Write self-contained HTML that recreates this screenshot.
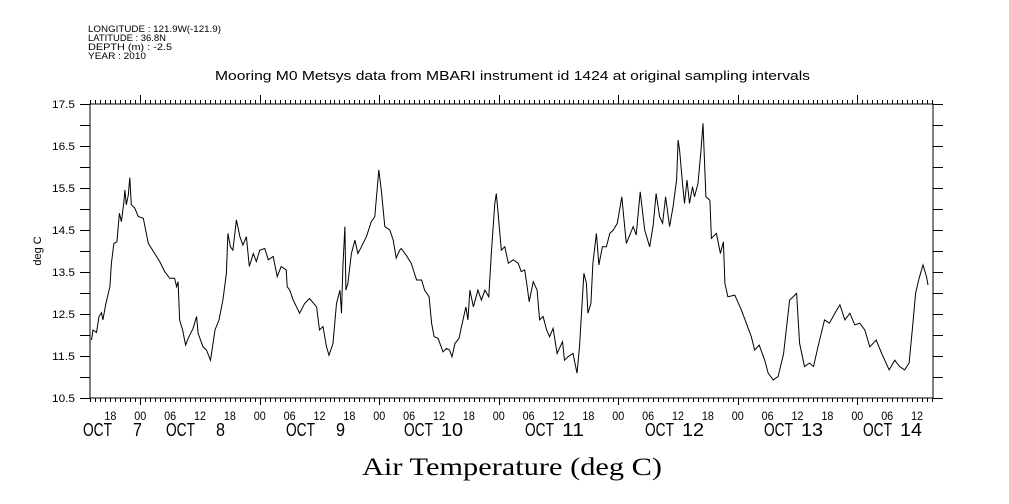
<!DOCTYPE html>
<html><head><meta charset="utf-8">
<style>
body{margin:0;background:#fff;}
svg{display:block;font-family:"Liberation Sans",sans-serif;}
</style></head>
<body>
<svg width="1009" height="504" viewBox="0 0 1009 504">
<g id="hdr" font-size="9" fill="#000">
<text x="88" y="32" textLength="133" lengthAdjust="spacingAndGlyphs">LONGITUDE : 121.9W(-121.9)</text>
<text x="88" y="41" textLength="78" lengthAdjust="spacingAndGlyphs">LATITUDE : 36.8N</text>
<text x="88" y="50" textLength="84" lengthAdjust="spacingAndGlyphs">DEPTH (m) : -2.5</text>
<text x="88" y="59" textLength="58" lengthAdjust="spacingAndGlyphs">YEAR : 2010</text>
</g>
<text x="215" y="80" textLength="595" lengthAdjust="spacingAndGlyphs" font-size="12.5">Mooring M0 Metsys data from MBARI instrument id 1424 at original sampling intervals</text>
<text transform="translate(41,251) rotate(-90)" text-anchor="middle" font-size="11">deg C</text>
<text x="362" y="475" textLength="300" lengthAdjust="spacingAndGlyphs" font-size="25" font-family="Liberation Serif, serif">Air Temperature (deg C)</text>
<rect x="90" y="104" width="843" height="294" fill="none" stroke="#000" stroke-width="1"/>
<g id="axes"></g>
<path id="line" fill="none" stroke="#000" stroke-width="1"/>
</svg>
<script>
const hours=[-9.8,-9.5,-8.8,-8.3,-7.8,-7.5,-6.9,-6.1,-5.8,-5.3,-4.7,-4.2,-3.8,-3.3,-3.1,-2.8,-2.4,-2.1,-1.8,-1.1,-0.4,0.6,1.6,2.9,3.9,4.9,5.9,6.9,7.3,7.6,7.9,8.5,9.1,9.6,10.6,11.3,11.6,12.6,13.3,14.1,14.6,15.0,15.8,16.6,17.3,17.6,18.1,18.6,19.3,20.0,20.6,21.3,21.9,22.7,23.3,24.0,25.0,25.7,26.7,27.5,28.3,29.3,29.5,30.0,30.7,32.0,33.0,34.0,35.4,36.0,36.7,37.4,37.9,38.7,39.4,40.1,40.4,40.7,41.1,41.3,41.7,42.4,43.1,43.7,44.4,45.4,46.4,47.1,47.9,48.4,49.1,50.1,50.8,51.4,52.1,52.4,53.4,54.4,55.5,56.5,57.1,58.0,58.5,59.0,59.8,60.8,61.5,62.1,62.6,63.2,64.0,64.5,65.4,65.8,66.2,66.9,67.8,68.5,69.2,70.0,70.5,71.2,71.5,71.8,72.5,73.2,73.9,74.9,75.9,76.5,77.2,77.6,78.1,78.9,79.7,80.2,80.9,81.6,82.2,82.9,83.7,84.8,85.2,85.9,86.9,87.7,88.2,89.1,89.6,89.9,90.5,90.9,91.6,92.1,92.8,93.6,94.3,95.0,95.8,96.7,97.6,99.0,99.6,100.4,101.3,102.3,103.0,103.6,104.3,104.9,105.5,106.3,107.0,107.7,108.0,108.3,108.9,109.3,109.8,110.3,110.9,111.3,112.0,112.6,113.0,113.6,114.4,114.7,115.7,116.5,117.1,117.4,118.0,119.4,120.7,121.7,122.7,123.4,124.3,125.4,126.1,127.1,128.1,129.2,130.4,131.1,131.8,132.4,133.4,134.4,135.2,136.1,137.4,138.4,139.5,140.5,141.5,142.5,143.5,144.5,145.5,146.5,147.8,148.9,150.4,151.5,152.5,153.5,154.4,155.1,155.7,156.4,157.2,157.9,158.2];
const temps=[11.88,12.12,12.06,12.44,12.53,12.36,12.75,13.15,13.71,14.18,14.22,14.9,14.7,15.17,15.45,15.1,15.33,15.75,15.1,15.02,14.82,14.78,14.18,13.94,13.75,13.51,13.35,13.35,13.15,13.27,12.36,12.12,11.76,11.92,12.16,12.44,12.04,11.72,11.64,11.4,11.8,12.12,12.36,12.83,13.47,14.42,14.1,14.02,14.74,14.34,14.14,14.34,13.63,13.94,13.75,14.02,14.06,13.79,13.87,13.39,13.63,13.55,13.15,13.07,12.83,12.52,12.75,12.87,12.67,12.12,12.2,11.72,11.52,11.8,12.75,13.07,12.52,13.63,14.58,13.07,13.23,13.94,14.26,13.94,14.1,14.34,14.7,14.82,15.93,15.45,14.58,14.5,14.26,13.83,14.02,14.06,13.9,13.71,13.31,13.31,13.07,12.91,12.28,11.96,11.92,11.6,11.68,11.64,11.48,11.8,11.92,12.2,12.67,12.36,13.07,12.67,13.07,12.83,13.07,12.91,13.94,15.13,15.37,14.98,14.02,14.1,13.71,13.79,13.71,13.51,13.55,13.23,12.79,13.27,13.07,12.36,12.44,12.12,11.96,12.16,11.56,11.84,11.4,11.48,11.56,11.09,11.72,13.47,13.23,12.52,12.75,13.71,14.42,13.67,14.1,14.1,14.42,14.5,14.66,15.29,14.18,14.58,14.38,15.41,14.5,14.1,14.62,15.37,14.82,14.66,15.29,14.58,15.06,15.69,16.64,16.4,15.61,15.13,15.69,15.13,15.53,15.29,15.61,16.4,17.04,15.29,15.21,14.3,14.42,13.94,14.22,13.23,12.91,12.95,12.6,12.28,11.96,11.64,11.76,11.4,11.09,10.93,11.01,11.56,12.83,12.91,12.99,11.8,11.25,11.33,11.25,11.72,12.36,12.28,12.52,12.72,12.36,12.52,12.24,12.28,12.12,11.72,11.88,11.56,11.17,11.4,11.25,11.17,11.33,12.2,12.99,13.35,13.67,13.39,13.19];
const yTickLabels=["10.5","11.5","12.5","13.5","14.5","15.5","16.5","17.5"];
const hourLabels=["18","00","06","12"];
const dayNames=["7","8","9","10","11","12","13","14"];
const dayLabelX=[83,166,286,404,525,645,764,863];

const NS="http://www.w3.org/2000/svg";
const X0=90,X1=933,Y0=104,Y1=398;
const hMin=-10.1,hMax=159.2,tMin=10.5,tMax=17.5;
function xs(h){return X0+(h-hMin)/(hMax-hMin)*(X1-X0);}
function ys(t){return Y1-(t-tMin)/(tMax-tMin)*(Y1-Y0);}
const ax=document.getElementById('axes');
function ln(x1,y1,x2,y2){const l=document.createElementNS(NS,'line');l.setAttribute('x1',x1);l.setAttribute('y1',y1);l.setAttribute('x2',x2);l.setAttribute('y2',y2);l.setAttribute('stroke','#000');l.setAttribute('stroke-width','1');


ax.appendChild(l);return l;}
function tx(x,y,s,size,anchor,len){const t=document.createElementNS(NS,'text');t.setAttribute('x',x);t.setAttribute('y',y);t.setAttribute('font-size',size);if(anchor)t.setAttribute('text-anchor',anchor);if(len){t.setAttribute('textLength',len);t.setAttribute('lengthAdjust','spacingAndGlyphs');}t.textContent=s;


ax.appendChild(t);return t;}
for(let i=0;i<=14;i++){const t=tMin+i*0.5;const y=Math.round(ys(t))+0.5;ln(80,y,X0,y);ln(X1,y,X1+10,y);}
yTickLabels.forEach(s=>{const y=ys(parseFloat(s));tx(52,y+4,s,11,null,23);});
for(let h=Math.ceil(hMin);h<=hMax;h++){const x=Math.round(xs(h))+0.5;const major=(((h%24)+24)%24===0);ln(x,Y0,x,Y0-(major?9:4));ln(x,Y1,x,Y1+(major?7:4));}
let k=0;for(let h=-6;h<=hMax;h+=6){const s=hourLabels[k%4];k++;tx(xs(h)-6,420,s,11.5,null,12);}
dayNames.forEach((d,i)=>{const x=dayLabelX[i];tx(x,436,'OCT',18,null,29);if(d.length>1)tx(x+37,436,d,18,null,22);else tx(x+50,436,d,18,null,9);});
let p='';hours.forEach((h,i)=>{p+=(i?'L':'M')+xs(h).toFixed(1)+','+ys(temps[i]).toFixed(1);});
document.getElementById('line').setAttribute('d',p);
</script>
</body></html>
